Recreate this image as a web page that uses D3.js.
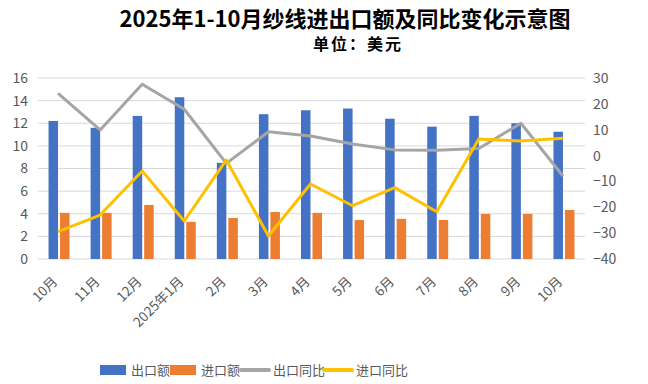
<!DOCTYPE html>
<html>
<head>
<meta charset="utf-8">
<script src="https://cdn.jsdelivr.net/npm/d3@7"></script>
<style>
body { margin: 0; background: #fff; }
text { font-family: "Noto Sans CJK SC", "Noto Sans", sans-serif; }
</style>
</head>
<body>
<script>
var months = ["10月", "11月", "12月", "2025年1月", "2月", "3月", "4月", "5月", "6月", "7月", "8月", "9月", "10月"];
var exportAmt = [12.2, 11.6, 12.65, 14.3, 8.5, 12.8, 13.15, 13.3, 12.4, 11.7, 12.65, 12.0, 11.25];
var importAmt = [4.08, 4.08, 4.78, 3.28, 3.63, 4.15, 4.08, 3.45, 3.55, 3.45, 3.98, 3.98, 4.33];
var exportYoy = [24.1, 9.9, 27.6, 17.9, -3.0, 9.2, 7.6, 4.5, 2.2, 2.1, 2.7, 12.5, -7.9];
var importYoy = [-29.4, -23.0, -6.0, -25.3, -1.7, -31.1, -11.0, -19.4, -12.4, -21.7, 6.4, 5.6, 6.7];
var leftTicks = [0, 2, 4, 6, 8, 10, 12, 14, 16];
var rightTicks = [-40, -30, -20, -10, 0, 10, 20, 30];

var W = 648, H = 384;
var plotL = 38, plotR = 585, plotT = 78, plotB = 259;

var svg = d3.select("body").append("svg")
	.attr("width", W)
	.attr("height", H)

var x = d3.scaleBand().domain(d3.range(months.length)).range([plotL, plotR]);
var y = d3.scaleLinear().domain([0, 16]).range([plotB, plotT]);
var y2 = d3.scaleLinear().domain([-40, 30]).range([plotB, plotT]);

// gridlines
svg.append("g").selectAll("line").data(leftTicks).enter()
	.append("line")
	.attr("x1", plotL).attr("x2", plotR)
	.attr("y1", d => y(d)).attr("y2", d => y(d))
	.attr("stroke", "#d9d9d9")
	.attr("stroke-width", 1)

// axes
var axL = svg.append("g").attr("transform", "translate(" + (plotL - 10) + ",0)")
	.call(d3.axisLeft(y).tickValues(leftTicks).tickSize(0).tickPadding(0));
var axR = svg.append("g").attr("transform", "translate(" + (plotR + 8) + ",0)")
	.call(d3.axisRight(y2).tickValues(rightTicks).tickSize(0).tickPadding(0));
[axL, axR].forEach(function(a) {
	a.select(".domain").remove();
	a.selectAll("text")
		.attr("fill", "#595959")
		.attr("font-size", "14px")
		.style("font-family", "\"Noto Sans CJK SC\", sans-serif");
});

// bars
var bw = 9.5;
svg.append("g").selectAll("rect").data(exportAmt).enter()
	.append("rect")
	.attr("x", (d, i) => x(i) + x.bandwidth() / 2 - bw - 1)
	.attr("y", d => y(d))
	.attr("width", bw)
	.attr("height", d => y(0) - y(d))
	.attr("fill", "#4472C4")

svg.append("g").selectAll("rect").data(importAmt).enter()
	.append("rect")
	.attr("x", (d, i) => x(i) + x.bandwidth() / 2 + 1)
	.attr("y", d => y(d))
	.attr("width", bw)
	.attr("height", d => y(0) - y(d))
	.attr("fill", "#ED7D31")

// lines
var line = d3.line()
	.x((d, i) => x(i) + x.bandwidth() / 2 - 1)
	.y(d => y2(d));

svg.append("path").datum(exportYoy)
	.attr("d", line)
	.attr("fill", "none")
	.attr("stroke", "#A5A5A5")
	.attr("stroke-width", 3)
	.attr("stroke-linejoin", "round")

svg.append("path").datum(importYoy)
	.attr("d", line)
	.attr("fill", "none")
	.attr("stroke", "#FFC000")
	.attr("stroke-width", 3)
	.attr("stroke-linejoin", "round")

// x labels
svg.append("g").selectAll("text").data(months).enter()
	.append("text")
	.attr("transform", (d, i) => "translate(" + (x(i) + x.bandwidth() / 2 - 4) + "," + 279 + ") rotate(-45)")
	.attr("text-anchor", "end")
	.attr("dy", "0.35em")
	.attr("font-size", "13.5px")
	.attr("fill", "#595959")
	.text(d => d)

// title
svg.append("text")
	.attr("x", 345).attr("y", 27)
	.attr("text-anchor", "middle")
	.attr("font-size", "22px")
	.attr("font-weight", "bold")
	.attr("fill", "#000")
	.text("2025年1-10月纱线进出口额及同比变化示意图")

svg.append("text")
	.attr("x", 358).attr("y", 50)
	.attr("text-anchor", "middle")
	.attr("font-size", "16px")
	.attr("font-weight", "bold")
	.attr("letter-spacing", "2px")
	.attr("fill", "#000")
	.text("单位：美元")

// legend
var legend = [
	{name: "出口额", color: "#4472C4", type: "rect", x: 100},
	{name: "进口额", color: "#ED7D31", type: "rect", x: 170},
	{name: "出口同比", color: "#A5A5A5", type: "line", x: 240},
	{name: "进口同比", color: "#FFC000", type: "line", x: 323}
];
var lg = svg.append("g").selectAll("g").data(legend).enter().append("g");
lg.filter(d => d.type == "rect").append("rect")
	.attr("x", d => d.x).attr("y", 365)
	.attr("width", 26).attr("height", 10)
	.attr("fill", d => d.color)
lg.filter(d => d.type == "line").append("line")
	.attr("x1", d => d.x + 1).attr("x2", d => d.x + 29)
	.attr("y1", 370).attr("y2", 370)
	.attr("stroke", d => d.color)
	.attr("stroke-width", 4)
	.attr("stroke-linecap", "round")
lg.append("text")
	.attr("x", d => d.x + (d.type == "rect" ? 31 : 33))
	.attr("y", 370)
	.attr("dy", "0.35em")
	.attr("font-size", "13px")
	.attr("fill", "#595959")
	.text(d => d.name)
</script>
</body>
</html>
